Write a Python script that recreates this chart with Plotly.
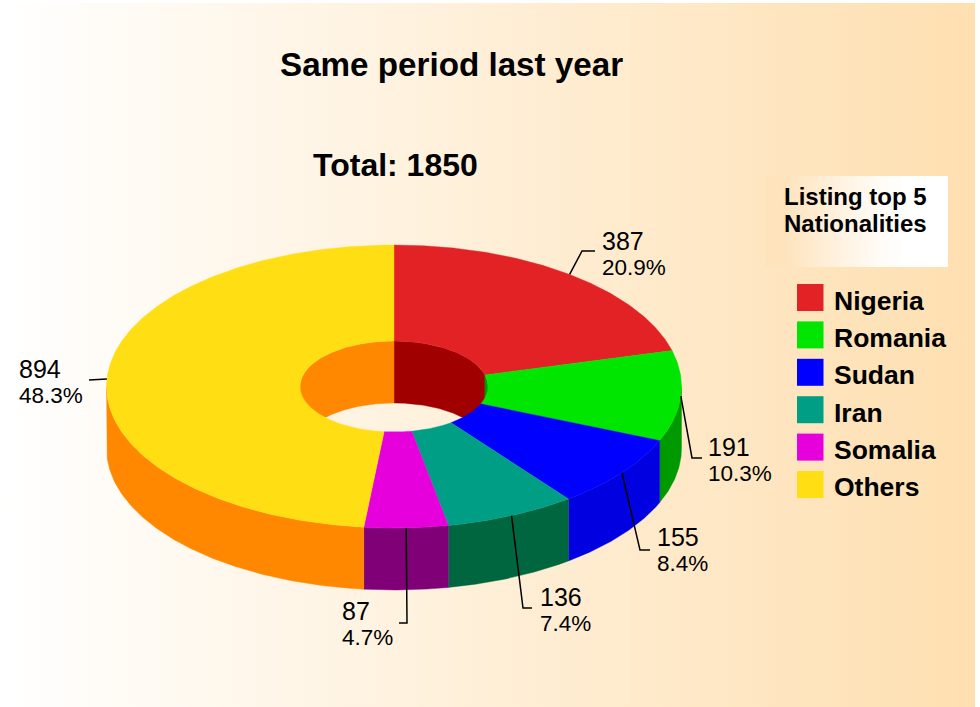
import math
import plotly.graph_objects as go

categories = ["Nigeria", "Romania", "Sudan", "Iran", "Somalia", "Others"]
values = [387, 191, 155, 136, 87, 894]
top_colors = ["#E32226", "#00E600", "#0000FF", "#009F85", "#E600DC", "#FFDF14"]
side_colors = ["#A00000", "#009900", "#0000E0", "#00663F", "#800078", "#FF8800"]
title_text = "Same period last year"
total_text = "Total: 1850"
legend_title = ["Listing top 5", "Nationalities"]

W, H = 980, 707
CX, CY, RX, RY = 394.0, 386.5, 287.5, 141.5
IRX, IRY = 94.0, 45.5
DEPTH = 62.0
total = sum(values)

# Each label: (x, y of text, elbow x, elbow y, end x)
label_pos = [(600, 241, 582, 251, 595), (706, 447, 692, 458, 702), (655, 537, 640, 550, 650),
             (538, 597, 523, 608, 532), (340, 611, 407, 623, 399), (17, 369, 89, 380, 89)]


def pt(a, rx, ry, dy=0.0):
    r = math.radians(a)
    return CX + rx * math.sin(r), CY - ry * math.cos(r) + dy


def arc(a0, a1, rx, ry, dy=0.0):
    n = max(2, int(abs(a1 - a0) * 2) + 1)
    return [pt(a0 + (a1 - a0) * i / (n - 1), rx, ry, dy) for i in range(n)]


def poly(fig, points, color):
    xs = [p[0] for p in points] + [points[0][0]]
    ys = [p[1] for p in points] + [points[0][1]]
    fig.add_trace(go.Scatter(x=xs, y=ys, mode="lines", fill="toself", fillcolor=color,
                             line=dict(color=color, width=0.4), hoverinfo="skip", showlegend=False))


def grad_rect(fig, x0, x1, y0, y1, scale):
    fig.add_trace(go.Scatter(x=[x0, x1, x1, x0, x0], y=[y0, y0, y1, y1, y0], mode="lines", fill="toself",
                             fillgradient=dict(type="horizontal", colorscale=scale),
                             line=dict(width=0), hoverinfo="skip", showlegend=False))


fig = go.Figure()
grad_rect(fig, 0, 975, 3, 707, [[0, "#FFFFFF"], [1, "#FEDFB0"]])
grad_rect(fig, 765, 948, 176, 267, [[0, "#FEE3BC"], [0.1, "#FEE3BC"], [0.41, "#FFF2E0"], [0.62, "#FFFBF5"],
                                    [0.78, "#FFFFFF"], [1, "#FFFFFF"]])

spans = []
c = 0
for v in values:
    spans.append((c / total * 360, (c + v) / total * 360))
    c += v

# inner wall of the hole: only the back half can be seen
for (a0, a1), col in zip(spans, side_colors):
    for lo, hi in ((a0, min(a1, 90)), (max(a0, 270), a1)):
        if hi > lo:
            poly(fig, arc(lo, hi, IRX, IRY) + arc(hi, lo, IRX, IRY, DEPTH), col)

# outer wall: only the front half can be seen
for (a0, a1), col in zip(spans, side_colors):
    lo, hi = max(a0, 90), min(a1, 270)
    if hi > lo:
        poly(fig, arc(lo, hi, RX, RY) + arc(hi, lo, RX, RY, DEPTH), col)

# top face
for (a0, a1), col in zip(spans, top_colors):
    poly(fig, arc(a0, a1, RX, RY) + arc(a1, a0, IRX, IRY), col)

annotations = []


def text(x, y, s, size, bold=False, align="left", anchor="left"):
    annotations.append(dict(x=x, y=y, xref="x", yref="y", text=f"<b>{s}</b>" if bold else s, showarrow=False,
                            xanchor=anchor, yanchor="middle", align=align,
                            font=dict(family="Liberation Sans", size=size, color="#000000")))


text(451.5, 64, title_text, 33.2, True, "center", "center")
text(395.5, 165, total_text, 32, True, "center", "center")
text(782, 196, legend_title[0], 24, True)
text(782, 223.5, legend_title[1], 24, True)

# leader lines and value labels
for (a0, a1), v, (tx, ty, ex, ey, ex2) in zip(spans, values, label_pos):
    sx, sy = pt((a0 + a1) / 2, RX, RY)
    fig.add_trace(go.Scatter(x=[sx, ex, ex2], y=[sy, ey, ey], mode="lines", line=dict(color="#000000", width=1.5),
                             hoverinfo="skip", showlegend=False))
    text(tx, ty, str(v), 25)
    text(tx, ty + 26, f"{v / total * 100:.1f}%", 22.5)

# legend
shapes = []
for i, (name, col) in enumerate(zip(categories, top_colors)):
    top = 284 + i * 37.4
    shapes.append(dict(type="rect", xref="x", yref="y", x0=797, x1=823.5, y0=top, y1=top + 27,
                       fillcolor=col, line=dict(width=0), layer="above"))
    text(832, 301 + i * 37.2, name, 26.5, True)

fig.update_layout(
    width=W, height=H, margin=dict(l=0, r=0, t=0, b=0), paper_bgcolor="#FFFFFF", plot_bgcolor="rgba(0,0,0,0)",
    xaxis=dict(range=[0, W], visible=False, fixedrange=True),
    yaxis=dict(range=[H, 0], visible=False, fixedrange=True),
    annotations=annotations, shapes=shapes, showlegend=False,
)
fig.write_html("out.html", config=dict(displayModeBar=False),
               post_script="document.body.style.margin='0';document.body.style.overflow='hidden';")
